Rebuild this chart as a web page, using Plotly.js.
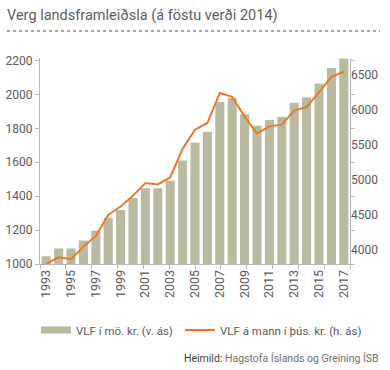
<!DOCTYPE html>
<html>
<head>
<meta charset="utf-8">
<script src="https://cdn.plot.ly/plotly-3.0.1.min.js"></script>
<style>
html,body{margin:0;padding:0;background:#fff;}
#chart{width:390px;height:370px;}
</style>
</head>
<body>
<div id="chart"></div>
<script>
// ---- data ----
var years = [1993,1994,1995,1996,1997,1998,1999,2000,2001,2002,2003,2004,2005,2006,2007,2008,2009,2010,2011,2012,2013,2014,2015,2016,2017];
var gdpBillions = [1046,1091,1091,1139,1196,1273,1319,1390,1447,1447,1491,1610,1715,1780,1955,1979,1883,1816,1850,1869,1951,1982,2064,2156,2212];
var gdpPerCapita = [3800,3895,3867,4047,4201,4502,4621,4775,4957,4937,5037,5447,5721,5817,6247,6190,5912,5664,5769,5793,5994,6047,6256,6477,6553];
var xTickYears = [1993,1995,1997,1999,2001,2003,2005,2007,2009,2011,2013,2015,2017];
var leftTicks = [1000,1200,1400,1600,1800,2000,2200];
var rightTicks = [4000,4500,5000,5500,6000,6500];
var barName = 'VLF í mö. kr. (v. ás)';
var lineName = 'VLF á mann í þús. kr. (h. ás)';
var titleText = 'Verg landsframleiðsla (á föstu verði 2014)';
var sourceLabel = 'Heimild:';
var sourceText = 'Hagstofa Íslands og Greining ÍSB';

var barColor = '#bcb9a1';
var lineColor = '#e8792b';
var textColor = '#5b5b5b';
var axisColor = '#b8b8b8';
var font = 'Roboto, "Liberation Sans", Arial, sans-serif';

var traces = [
  {
    type: 'bar', x: years, y: gdpBillions, name: barName,
    marker: {color: barColor}, showlegend: false,
    xaxis: 'x', yaxis: 'y', hoverinfo: 'x+y'
  },
  {
    type: 'scatter', mode: 'lines', x: years, y: gdpPerCapita, name: lineName,
    line: {color: lineColor, width: 2}, showlegend: false,
    xaxis: 'x', yaxis: 'y2'
  },
  {
    type: 'scatter', mode: 'lines', x: [null], y: [null], name: barName,
    line: {color: barColor, width: 7}, xaxis: 'x', yaxis: 'y',
    hoverinfo: 'skip', legend: 'legend'
  },
  {
    type: 'scatter', mode: 'lines', x: [null], y: [null], name: lineName,
    line: {color: lineColor, width: 2}, xaxis: 'x', yaxis: 'y2',
    hoverinfo: 'skip', legend: 'legend2'
  },
  {
    type: 'scatter', mode: 'none', x: [0, 12], y: [null, null],
    xaxis: 'x2', yaxis: 'y', showlegend: false, hoverinfo: 'skip'
  }
];

var legendCommon = {
  orientation: 'h', xref: 'container', yref: 'container',
  xanchor: 'left', y: 1 - 330/370, yanchor: 'middle',
  font: {family: font, size: 11.5, color: textColor},
  itemwidth: 30, bgcolor: 'rgba(0,0,0,0)'
};

var layout = {
  width: 390, height: 370,
  margin: {l: 40, r: 40, t: 58, b: 106, pad: 0},
  paper_bgcolor: '#fff', plot_bgcolor: '#fff',
  bargap: 0.27,
  showlegend: true,
  font: {family: font, color: textColor, size: 12},
  title: {
    text: titleText,
    font: {family: font, size: 14.5, color: '#5e5e5e'},
    xref: 'container', yref: 'container', x: 7/390, xanchor: 'left',
    y: 1 - 15/370, yanchor: 'middle'
  },
  xaxis: {
    type: 'linear', range: [1992.5, 2017.5],
    tickmode: 'array', tickvals: xTickYears, ticktext: xTickYears.map(String),
    tickangle: -90, ticks: '', showgrid: false, zeroline: false,
    showline: true, linecolor: axisColor, linewidth: 1,
    tickfont: {family: font, size: 12.5, color: textColor}
  },
  xaxis2: {
    overlaying: 'x', anchor: 'y', side: 'bottom', range: [0, 12],
    tickmode: 'linear', tick0: 0, dtick: 1, ticks: 'outside', ticklen: 4,
    tickcolor: axisColor, showticklabels: false, showgrid: false,
    zeroline: false, showline: false
  },
  yaxis: {
    range: [1000, 2215], tickmode: 'array', tickvals: leftTicks,
    ticks: 'outside', ticklen: 4, tickcolor: axisColor,
    showline: true, linecolor: axisColor, mirror: 'ticks',
    showgrid: false, zeroline: false,
    tickfont: {family: font, size: 12, color: textColor}
  },
  yaxis2: {
    overlaying: 'y', side: 'right', anchor: 'x',
    range: [3799, 6747], tickmode: 'array', tickvals: rightTicks,
    ticks: '', showline: false, showgrid: false, zeroline: false,
    tickfont: {family: font, size: 12, color: textColor}
  },
  legend: Object.assign({}, legendCommon, {x: 36/390}),
  legend2: Object.assign({}, legendCommon, {x: 180/390}),
  shapes: [{
    type: 'line', xref: 'paper', yref: 'paper',
    x0: (7-40)/310, x1: (380-40)/310, y0: (264-31)/206, y1: (264-31)/206,
    line: {color: '#8a8a8a', width: 1.5, dash: 'dot'}
  }],
  annotations: [{
    xref: 'paper', yref: 'paper', x: (381-40)/310, xanchor: 'right',
    y: (264-358)/206, yanchor: 'middle', showarrow: false,
    text: '<span style="color:#3f3f3f">' + sourceLabel + '</span> ' + sourceText,
    font: {family: font, size: 10.5, color: '#6e6e6e'}
  }]
};

Plotly.newPlot('chart', traces, layout, {displayModeBar: false, staticPlot: true});
</script>
</body>
</html>
